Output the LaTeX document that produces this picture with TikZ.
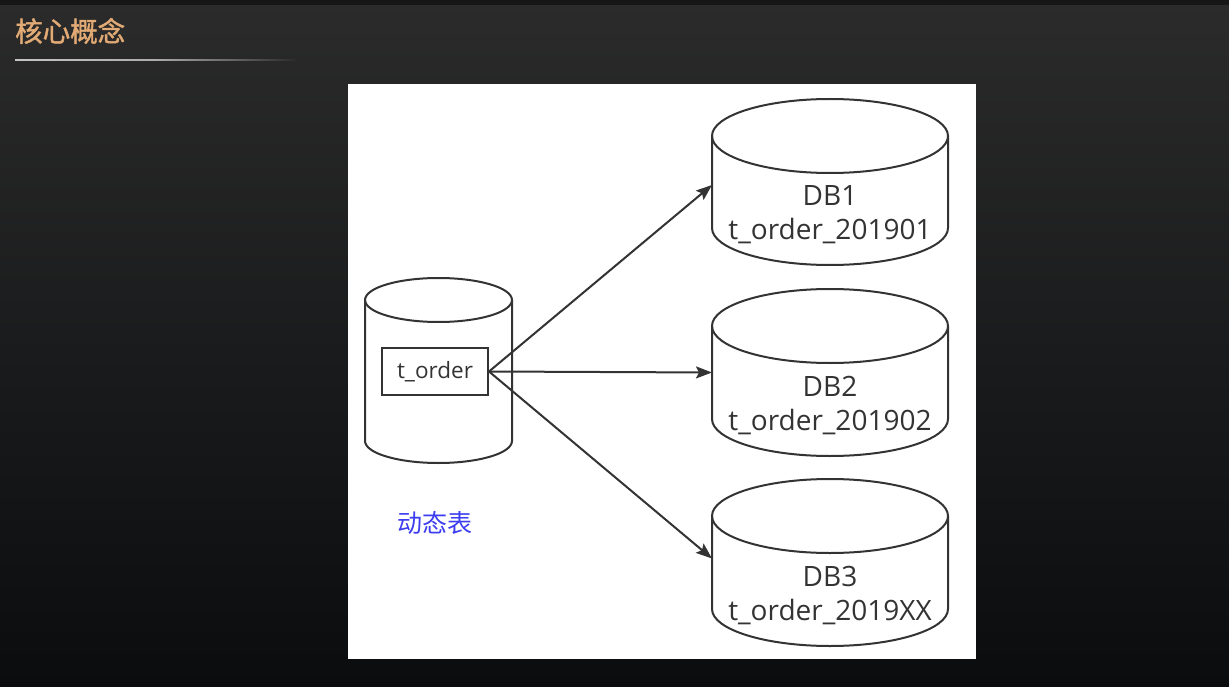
\documentclass[tikz,border=0pt]{standalone}
\usepackage{fontspec}
\setmainfont{Open Sans}
\newfontfamily\cjk{Noto Sans CJK SC}
\newfontfamily\cjkbold[FakeBold=1.6]{Noto Sans CJK SC}
\usetikzlibrary{calc,arrows.meta}
\definecolor{bgtop}{HTML}{2B2B2B}
\definecolor{bgbot}{HTML}{0A0C0E}
\definecolor{strip}{HTML}{161616}
\definecolor{ink}{HTML}{333333}
\definecolor{titlec}{HTML}{E2AA74}
\definecolor{bluetxt}{HTML}{3C3CF0}
\tikzset{
  cyl/.style={draw=ink,line width=2pt},
  dbnode/.style={rectangle,inner sep=0pt,outer sep=0pt,draw=none},
  dblabel/.style={font=\fontsize{28pt}{34pt}\selectfont,text=ink,align=center,inner sep=0pt},
  tbox/.style={rectangle,draw=ink,line width=2pt,inner sep=0pt,minimum width=106pt,minimum height=47pt,font=\fontsize{22.5pt}{25pt}\selectfont,text=ink},
  conn/.style={draw=ink,line width=2pt,-{Stealth[length=16pt,width=12pt,inset=3pt]}}
}
\newcommand\drawcyl[3]{%
  \draw[cyl] ($(#1.north west)+(0pt,-#3)$) -- ($(#1.south west)+(0pt,#3)$)
     arc[start angle=180,end angle=360,x radius=#2,y radius=#3]
     -- ($(#1.north east)+(0pt,-#3)$);
  \draw[cyl] ($(#1.north)+(0pt,-#3)$) ellipse[x radius=#2,y radius=#3];
}
\begin{document}
\begin{tikzpicture}
\useasboundingbox (0pt,0pt) rectangle (1229pt,-687pt);
% background
\shade[top color=bgtop,bottom color=bgbot] (0pt,0pt) rectangle (1229pt,-687pt);
\fill[strip] (0pt,0pt) rectangle (1229pt,-5pt);
% title
\node[anchor=west,inner sep=0pt,text=titlec,font=\cjkbold\fontsize{27.5pt}{30pt}\selectfont] (title) at (15pt,-31pt) {核心概念};
\shade[left color=gray!45,right color=bgtop,middle color=gray!65] (15pt,-59.3pt) rectangle (296pt,-60.3pt);
% white panel
\fill[white] (348pt,-84pt) rectangle (976pt,-659pt);
% source cylinder
\node[dbnode,minimum width=147pt,minimum height=185pt] (src) at (438.5pt,-370.5pt) {};
\drawcyl{src}{73.5pt}{22pt}
\node[tbox] (tord) at (435pt,-371.5pt) {t\_order};
\node[inner sep=0pt,text=bluetxt,font=\cjk\fontsize{25pt}{28pt}\selectfont] (dyn) at (435pt,-523pt) {动态表};
% target cylinders
\node[dbnode,minimum width=236pt,minimum height=166pt] (db1) at (830pt,-182pt) {};
\node[dbnode,minimum width=236pt,minimum height=167pt] (db2) at (830pt,-372.5pt) {};
\node[dbnode,minimum width=236pt,minimum height=167pt] (db3) at (830pt,-562.5pt) {};
\drawcyl{db1}{118pt}{37pt}
\drawcyl{db2}{118pt}{37pt}
\drawcyl{db3}{118pt}{37pt}
\node[dblabel] (l1) at ($(db1.center)+(0pt,-33pt)$) {DB1\\t\_order\_201901};
\node[dblabel] (l2) at ($(db2.center)+(0pt,-33pt)$) {DB2\\t\_order\_201902};
\node[dblabel] (l3) at ($(db3.center)+(0pt,-33pt)$) {DB3\\t\_order\_2019XX};
% connectors
\draw[conn] (tord.east) -- ($(db1.west)+(0pt,-3pt)$);
\draw[conn] (tord.east) -- (db2.west);
\draw[conn] (tord.east) -- ($(db3.west)+(0pt,4pt)$);
\end{tikzpicture}
\end{document}
